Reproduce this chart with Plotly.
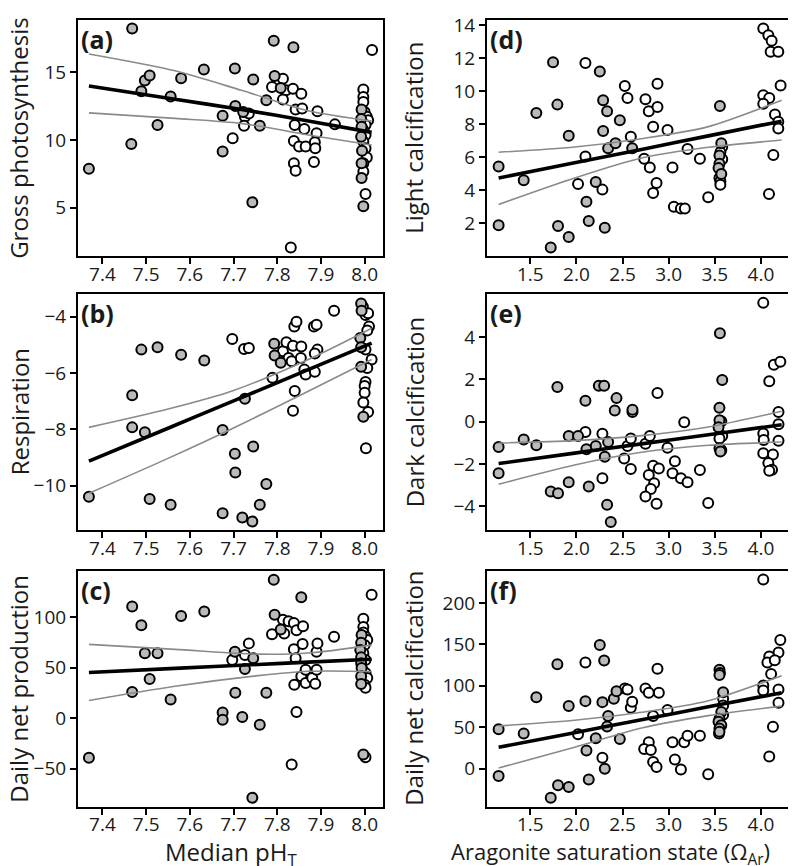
import plotly.graph_objects as go

# ---- data ----
# (a) gross photosynthesis vs median pH
a_gray_x = [7.369, 7.468, 7.466, 7.489, 7.497, 7.508, 7.526, 7.556, 7.580, 7.632, 7.675, 7.675,
            7.703, 7.704, 7.722, 7.745, 7.743, 7.760, 7.775, 7.792, 7.794, 7.808, 7.837,
            7.993, 7.992, 7.993, 7.992, 7.994, 7.993, 7.993, 7.997]
a_gray_y = [7.88, 18.22, 9.71, 13.59, 14.39, 14.76, 11.10, 13.20, 14.56, 15.20, 11.78, 9.15,
            15.27, 12.51, 12.07, 14.46, 5.41, 11.05, 12.93, 17.32, 14.71, 13.83, 16.83,
            12.24, 11.54, 10.98, 10.24, 9.20, 8.29, 7.20, 5.12]
a_open_x = [7.698, 7.726, 7.724, 7.735, 7.788, 7.813, 7.820, 7.813, 7.836, 7.855, 7.842, 7.857,
            7.840, 7.862, 7.838, 7.850, 7.865, 7.838, 7.842, 7.831, 7.892, 7.890, 7.886, 7.887,
            7.884, 7.932, 8.017,
            7.997, 7.997, 7.997, 8.000, 8.005, 8.008, 8.002, 7.997, 8.002, 7.997, 8.002, 8.005,
            7.997, 7.997, 8.002]
a_open_y = [10.12, 11.71, 11.05, 11.95, 13.90, 14.51, 13.66, 12.98, 13.78, 13.41, 12.24, 12.32,
            11.10, 10.80, 9.93, 9.51, 9.51, 8.29, 7.73, 2.07, 12.12, 10.49, 9.83, 9.39,
            8.37, 11.15, 16.63,
            13.73, 13.17, 12.80, 12.07, 11.71, 11.46, 11.10, 10.73, 10.37, 9.88, 9.39, 8.71,
            8.29, 7.68, 6.02]
a_fit_x = [7.369, 7.566, 7.718, 7.871, 8.016]
a_fit_y = [13.98, 13.0, 12.25, 11.4, 10.56]
a_up_y = [16.34, 15.1, 13.66, 12.15, 11.39]
a_lo_y = [12.0, 11.59, 11.22, 10.37, 9.63]

# (b) respiration vs median pH
b_gray_x = [7.369, 7.468, 7.468, 7.489, 7.497, 7.526, 7.508, 7.556, 7.580, 7.633, 7.675, 7.675,
            7.703, 7.704, 7.726, 7.720, 7.743, 7.745, 7.760, 7.775, 7.793, 7.794, 7.808,
            7.992, 7.993, 7.990, 7.992, 7.992, 7.997]
b_gray_y = [-10.39, -6.79, -7.93, -5.17, -8.10, -5.09, -10.47, -10.68, -5.35, -5.56, -8.02, -10.98,
            -8.87, -9.53, -6.91, -11.13, -11.27, -8.61, -10.68, -9.94, -4.96, -5.38, -5.64,
            -3.53, -3.79, -4.76, -5.09, -5.78, -7.55]
b_open_x = [7.697, 7.724, 7.735, 7.789, 7.813, 7.821, 7.826, 7.836, 7.839, 7.844, 7.833, 7.840,
            7.836, 7.855, 7.854, 7.862, 7.865, 7.884, 7.890, 7.892, 7.886, 7.886, 7.930, 8.016,
            7.996, 8.002, 8.008, 8.010, 8.006, 8.002, 8.006, 8.002, 8.000, 8.000, 7.997, 8.008,
            8.003]
b_open_y = [-4.79, -5.15, -5.11, -6.17, -5.23, -4.91, -5.47, -5.03, -4.35, -4.18, -5.58, -6.64,
            -7.34, -5.06, -5.47, -5.88, -6.05, -4.35, -4.29, -5.17, -5.31, -5.96, -3.79, -5.52,
            -3.65, -3.94, -3.88, -4.35, -4.49, -5.17, -5.82, -6.32, -6.46, -6.70, -7.05, -7.38,
            -8.67]
b_fit_x = [7.369, 7.55, 7.7, 7.871, 8.016]
b_fit_y = [-9.13, -7.96, -6.99, -5.88, -4.94]
b_up_y = [-7.93, -7.28, -6.62, -5.52, -4.41]
b_lo_y = [-10.27, -9.03, -7.95, -6.65, -5.52]

# (c) daily net production vs median pH
c_gray_x = [7.369, 7.468, 7.468, 7.489, 7.497, 7.526, 7.508, 7.556, 7.580, 7.633, 7.675, 7.675,
            7.703, 7.704, 7.720, 7.726, 7.745, 7.743, 7.760, 7.775, 7.792, 7.794, 7.808, 7.855,
            7.993, 7.992, 7.990, 7.992, 7.992, 7.993, 7.992, 7.992, 7.997]
c_gray_y = [-39.2, 110.8, 26.1, 92.2, 64.4, 64.4, 38.9, 18.6, 101.3, 105.9, 5.6, -1.6,
            66.0, 25.2, 1.3, 48.7, 59.5, -78.8, -6.5, 25.2, 137.3, 102.6, 87.9, 119.9,
            82.4, 74.8, 67.6, 60.5, 54.6, 49.7, 41.5, 34.0, -35.9]
c_open_x = [7.697, 7.726, 7.735, 7.788, 7.813, 7.816, 7.826, 7.838, 7.844, 7.859, 7.838, 7.842,
            7.839, 7.844, 7.833, 7.858, 7.855, 7.865, 7.865, 7.880, 7.890, 7.890, 7.892, 7.887,
            7.930, 8.016,
            7.997, 7.997, 7.997, 8.002, 8.006, 8.000, 7.997, 8.002, 7.995, 8.002, 8.006, 8.000,
            8.002, 8.002]
c_open_y = [57.8, 62.7, 74.2, 83.3, 97.7, 84.0, 96.1, 94.4, 87.3, 91.2, 68.3, 59.5,
            33.3, 6.2, -45.8, 73.5, 41.5, 48.0, 35.0, 39.9, 48.0, 66.0, 74.2, 34.3,
            80.7, 122.5,
            98.7, 90.5, 85.0, 80.7, 77.5, 72.5, 64.4, 57.8, 48.0, 44.8, 39.9, 33.3,
            30.1, -38.6]
c_fit_x = [7.369, 7.566, 7.756, 7.871, 8.016]
c_fit_y = [45.4, 49.4, 53.3, 55.6, 58.5]
c_up_y = [73.2, 68.3, 63.5, 64.6, 72.5]
c_lo_y = [17.6, 31.7, 42.2, 46.6, 46.4]

# (d) light calcification vs aragonite saturation state
d_gray_x = [1.156, 1.156, 1.428, 1.565, 1.746, 1.793, 1.721, 1.800, 1.916, 1.916, 2.108, 2.133,
            2.209, 2.253, 2.289, 2.289, 2.332, 2.307, 2.343, 2.423, 2.470, 2.604,
            3.555, 3.570, 3.550, 3.550, 3.540, 3.570]
d_gray_y = [5.44, 1.88, 4.60, 8.68, 11.74, 9.18, 0.54, 1.84, 7.30, 1.18, 3.30, 2.14,
            4.50, 11.18, 9.44, 7.58, 8.78, 1.74, 6.54, 6.84, 8.24, 6.54,
            9.10, 6.84, 6.10, 5.60, 5.34, 4.98]
d_open_x = [2.017, 2.097, 2.097, 2.281, 2.524, 2.553, 2.589, 2.748, 2.784, 2.831, 2.878, 2.878,
            2.734, 2.795, 2.868, 2.831, 2.987, 3.041, 3.056, 3.132, 3.175, 3.204, 3.338, 3.428,
            3.580, 3.560, 3.580, 3.550, 3.560, 3.560,
            4.025, 4.080, 4.116, 4.105, 4.188, 4.213, 4.025, 4.090, 4.025, 4.152, 4.188, 4.188,
            4.134, 4.087]
d_open_y = [4.38, 11.70, 6.04, 4.04, 10.30, 9.58, 7.24, 9.50, 8.78, 7.84, 10.44, 9.04,
            5.90, 5.38, 4.44, 3.84, 7.64, 5.38, 3.00, 2.90, 2.90, 6.50, 5.90, 3.58,
            6.62, 6.30, 5.88, 4.74, 4.54, 4.34,
            13.78, 13.38, 13.04, 12.38, 12.38, 10.34, 9.74, 9.58, 9.24, 8.58, 8.14, 7.74,
            6.14, 3.78]
d_fit_x = [1.156, 1.98, 2.705, 3.43, 4.224]
d_fit_y = [4.74, 5.66, 6.47, 7.29, 8.18]
d_up_y = [6.30, 6.62, 7.12, 7.85, 9.44]
d_lo_y = [3.14, 4.74, 5.95, 6.60, 7.04]

# (e) dark calcification vs aragonite saturation state
e_gray_x = [1.156, 1.156, 1.428, 1.565, 1.793, 1.721, 1.800, 1.916, 1.916, 2.017, 2.097, 2.108,
            2.133, 2.209, 2.242, 2.300, 2.307, 2.332, 2.343, 2.372, 2.434, 2.415, 2.607,
            3.555, 3.580, 3.550, 3.550, 3.540, 3.550, 3.560]
e_gray_y = [-1.20, -2.44, -0.84, -1.12, 1.64, -3.30, -3.38, -0.68, -2.86, -0.68, 0.99, -1.30,
            -3.07, -1.15, 1.69, 1.69, -1.66, -3.93, -0.96, -4.74, 1.11, 0.53, 0.56,
            4.17, 1.97, 0.66, 0.07, -0.27, -1.26, -1.41]
e_open_x = [2.097, 2.281, 2.281, 2.517, 2.553, 2.589, 2.589, 2.607, 2.748, 2.795, 2.784, 2.831,
            2.842, 2.806, 2.748, 2.893, 2.868, 2.878, 2.987, 3.041, 3.067, 3.132, 3.204, 3.168,
            3.338, 3.428,
            3.570, 3.580, 3.550, 3.570,
            4.025, 4.140, 4.210, 4.090, 4.190, 4.190, 4.025, 4.030, 4.190, 4.025, 4.130, 4.080,
            4.120, 4.090]
e_open_y = [-0.49, -0.57, -2.68, -1.74, -1.15, -0.80, -2.24, 0.45, -1.04, -0.68, -2.52, -2.08,
            -2.91, -3.18, -3.54, -2.21, -3.88, 1.35, -1.24, -2.44, -1.87, -2.68, -2.86, -0.03,
            -2.29, -3.85,
            0.02, -0.68, -0.80, -1.35,
            5.61, 2.69, 2.83, 1.91, 0.46, -0.12, -0.56, -0.87, -0.90, -1.50, -1.55, -1.96,
            -2.27, -2.32]
e_fit_x = [1.156, 1.98, 2.705, 3.43, 4.224]
e_fit_y = [-1.98, -1.49, -1.05, -0.62, -0.15]
e_up_y = [-1.01, -0.90, -0.66, -0.25, 0.49]
e_lo_y = [-2.96, -2.05, -1.45, -1.12, -0.96]

# (f) daily net calcification vs aragonite saturation state
f_gray_x = [1.156, 1.156, 1.428, 1.565, 1.793, 1.721, 1.800, 1.916, 1.916, 2.097, 2.108, 2.133,
            2.209, 2.253, 2.300, 2.281, 2.307, 2.332, 2.343, 2.405, 2.434, 2.470,
            3.550, 3.555, 3.550, 3.590, 3.570, 3.550, 3.540, 3.570, 3.550, 3.550]
f_gray_y = [47.7, -8.7, 42.5, 86.3, 126.0, -35.0, -19.9, 75.5, -21.9, 81.5, 21.9, -13.1,
            36.6, 149.1, 130.4, 80.3, 0.0, 50.9, 63.6, 84.3, 93.4, 35.8,
            119.3, 115.3, 112.9, 92.2, 68.4, 60.4, 56.5, 52.5, 48.5, 44.5]
f_open_x = [2.017, 2.097, 2.281, 2.524, 2.553, 2.589, 2.604, 2.748, 2.784, 2.893, 2.878, 2.831,
            2.784, 2.734, 2.806, 2.831, 2.868, 2.987, 3.041, 3.067, 3.132, 3.168, 3.204, 3.338,
            3.428,
            3.590, 3.590, 3.590, 3.545,
            4.025, 4.210, 4.190, 4.090, 4.070, 4.150, 4.110, 4.025, 4.025, 4.190, 4.190, 4.130,
            4.090]
f_open_y = [41.7, 128.0, 13.1, 96.6, 95.4, 73.6, 80.7, 96.6, 91.5, 91.5, 120.5, 63.6,
            31.8, 23.9, 22.7, 8.0, 2.0, 70.8, 31.8, 11.1, -0.8, 31.8, 39.8, 39.8,
            -6.8,
            84.3, 76.3, 65.2, 42.5,
            228.2, 155.1, 140.0, 135.2, 128.0, 130.8, 114.1, 100.2, 94.2, 95.4, 79.5, 50.5,
            14.7]
f_fit_x = [1.156, 1.98, 2.705, 3.43, 4.224]
f_fit_y = [25.8, 43.5, 59.0, 74.6, 91.5]
f_up_y = [51.7, 58.5, 68.0, 82.0, 112.1]
f_lo_y = [0.8, 25.8, 49.0, 64.0, 75.5]

ph_ticks = [7.4, 7.5, 7.6, 7.7, 7.8, 7.9, 8.0]
om_ticks = [1.5, 2.0, 2.5, 3.0, 3.5, 4.0]

# ---- figure ----
W, H = 796, 866
FONT = "Open Sans"
TXT = "#1a1a1a"
FILL = "#bababa"

x_dom = [[70 / W, 375 / W], [479 / W, 787 / W]]
y_dom = [[1 - 242 / H, 1 - 4 / H], [1 - 519 / H, 1 - 281 / H], [1 - 798 / H, 1 - 560 / H]]
x_rng = [[7.344, 8.042], [1.03, 4.369]]

panels = [
    ("(a)", "Gross photosynthesis", 0, 0, a_gray_x, a_gray_y, a_open_x, a_open_y,
     a_fit_x, a_fit_y, a_up_y, a_lo_y, [1.46, 18.85], [5, 10, 15]),
    ("(d)", "Light calcification", 0, 1, d_gray_x, d_gray_y, d_open_x, d_open_y,
     d_fit_x, d_fit_y, d_up_y, d_lo_y, [0.04, 14.3], [2, 4, 6, 8, 10, 12, 14]),
    ("(b)", "Respiration", 1, 0, b_gray_x, b_gray_y, b_open_x, b_open_y,
     b_fit_x, b_fit_y, b_up_y, b_lo_y, [-11.58, -3.21], [-10, -8, -6, -4]),
    ("(e)", "Dark calcification", 1, 1, e_gray_x, e_gray_y, e_open_x, e_open_y,
     e_fit_x, e_fit_y, e_up_y, e_lo_y, [-5.13, 6.01], [-4, -2, 0, 2, 4]),
    ("(c)", "Daily net production", 2, 0, c_gray_x, c_gray_y, c_open_x, c_open_y,
     c_fit_x, c_fit_y, c_up_y, c_lo_y, [-87.6, 146.1], [-50, 0, 50, 100]),
    ("(f)", "Daily net calcification", 2, 1, f_gray_x, f_gray_y, f_open_x, f_open_y,
     f_fit_x, f_fit_y, f_up_y, f_lo_y, [-45.7, 238.6], [0, 50, 100, 150, 200]),
]

fig = go.Figure()
annotations = []

for i, (lab, ytitle, row, col, gx, gy, ox, oy, fx, fy, uy, ly, yr, yt) in enumerate(panels):
    n = i + 1
    xa = "x" if n == 1 else f"x{n}"
    ya = "y" if n == 1 else f"y{n}"
    mk = dict(size=10, line=dict(color="black", width=2))
    fig.add_trace(go.Scatter(x=ox, y=oy, mode="markers", xaxis=xa, yaxis=ya,
                             marker=dict(color="white", **mk)))
    fig.add_trace(go.Scatter(x=gx, y=gy, mode="markers", xaxis=xa, yaxis=ya,
                             marker=dict(color=FILL, **mk)))
    # confidence bands and fitted line
    for yy in (uy, ly):
        fig.add_trace(go.Scatter(x=fx, y=yy, mode="lines", xaxis=xa, yaxis=ya,
                                 line=dict(color="#8a8a8a", width=1.6, shape="spline",
                                           smoothing=0.8)))
    fig.add_trace(go.Scatter(x=fx, y=fy, mode="lines", xaxis=xa, yaxis=ya,
                             line=dict(color="black", width=3.6, shape="spline",
                                       smoothing=0.8)))

    ticks = ph_ticks if col == 0 else om_ticks
    ax_common = dict(showline=True, mirror=True, linecolor="black", linewidth=2,
                     ticks="outside", ticklen=6, tickwidth=1.5, tickcolor="black",
                     showgrid=False, zeroline=False, ticklabeloverflow="allow",
                     tickfont=dict(family=FONT, size=19, color=TXT))
    fig.update_layout({
        ("xaxis" if n == 1 else f"xaxis{n}"): dict(
            domain=x_dom[col], range=x_rng[col], anchor=ya, tickvals=ticks,
            tickformat=".1f", ticklabelstandoff=-6, **ax_common),
        ("yaxis" if n == 1 else f"yaxis{n}"): dict(
            domain=y_dom[row], range=yr, anchor=xa, tickvals=yt, **ax_common),
    })

    # panel letter
    annotations.append(dict(text=f"<b>{lab}</b>", xref="paper", yref="paper",
                            x=x_dom[col][0] + 1 / W, y=y_dom[row][1],
                            xanchor="left", yanchor="top", showarrow=False,
                            font=dict(family=FONT, size=25, color=TXT)))
    # y title
    annotations.append(dict(text=ytitle, xref="paper", yref="paper",
                            x=(11 if col == 0 else 406) / W,
                            y=(y_dom[row][0] + y_dom[row][1]) / 2,
                            xanchor="center", yanchor="middle", textangle=-90,
                            showarrow=False,
                            font=dict(family=FONT, size=24, color=TXT)))

annotations.append(dict(text="Median pH<sub>T</sub>", xref="paper", yref="paper",
                        x=(x_dom[0][0] + x_dom[0][1]) / 2, y=1 - 845 / H,
                        xanchor="center", yanchor="middle", showarrow=False,
                        font=dict(family=FONT, size=24, color=TXT)))
annotations.append(dict(text="Aragonite saturation state (Ω<sub>Ar</sub>)", xref="paper",
                        yref="paper", x=441 / W, y=1 - 845 / H,
                        xanchor="left", yanchor="middle", showarrow=False,
                        font=dict(family=FONT, size=22, color=TXT)))

fig.update_layout(width=W, height=H, margin=dict(l=0, r=0, t=0, b=0),
                  paper_bgcolor="white", plot_bgcolor="white", showlegend=False,
                  annotations=annotations)

fig.write_html("out.html")
